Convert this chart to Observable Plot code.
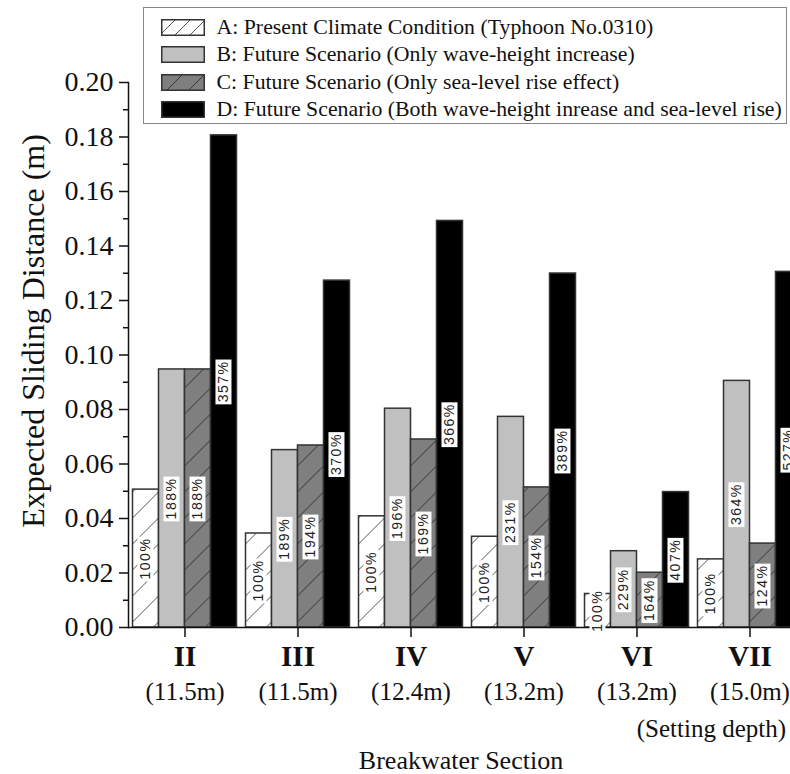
<!DOCTYPE html>
<html><head><meta charset="utf-8">
<script src="https://cdn.jsdelivr.net/npm/d3@7"></script>
<script src="https://cdn.jsdelivr.net/npm/@observablehq/plot@0.6"></script>
<style>
body{margin:0;background:#fff;}
#wrap{position:relative;width:790px;height:774px;overflow:hidden;}
#legend{position:absolute;left:143px;top:7px;width:642px;height:115px;border:1.5px solid #888;background:#fff;font-family:"Liberation Serif";font-size:21.8px;color:#111;}
.row{position:absolute;left:0;height:27px;display:flex;align-items:center;white-space:nowrap;}
.row svg{margin-left:16.5px;margin-right:12px;flex:none;}
</style></head>
<body>
<svg width="0" height="0" style="position:absolute">
<defs>
<pattern id="hatchA" patternUnits="userSpaceOnUse" width="26" height="26">
<rect width="26" height="26" fill="#fff"/>
<path d="M0,26L26,0M-3,3L3,-3M23,29L29,23" stroke="#555" stroke-width="1"/>
</pattern>
<pattern id="hatchC" patternUnits="userSpaceOnUse" width="26" height="26">
<rect width="26" height="26" fill="#7f7f7f"/>
<path d="M0,26L26,0M-3,3L3,-3M23,29L29,23" stroke="#333" stroke-width="1"/>
</pattern>
<pattern id="legA" patternUnits="userSpaceOnUse" width="15" height="15">
<rect width="15" height="15" fill="#fff"/>
<path d="M0,15L15,0M-3,3L3,-3M12,18L18,12" stroke="#555" stroke-width="1"/>
</pattern>
<pattern id="legC" patternUnits="userSpaceOnUse" width="22" height="22">
<rect width="22" height="22" fill="#7f7f7f"/>
<path d="M0,22L22,0M-3,3L3,-3M19,25L25,19" stroke="#333" stroke-width="1"/>
</pattern>
</defs>
</svg>
<div id="wrap"></div>
<script>
const sections = ["II", "III", "IV", "V", "VI", "VII"];
const depths = ["(11.5m)", "(11.5m)", "(12.4m)", "(13.2m)", "(13.2m)", "(15.0m)"];
const scenarios = ["A", "B", "C", "D"];
const scenarioNames = [
  "A: Present Climate Condition (Typhoon No.0310)",
  "B: Future Scenario (Only wave-height increase)",
  "C: Future Scenario (Only sea-level rise effect)",
  "D: Future Scenario (Both wave-height inrease and sea-level rise)"
];
const valuesA = [0.0506, 0.0345, 0.0408, 0.0333, 0.0123, 0.0250];
const valuesB = [0.0947, 0.0651, 0.0803, 0.0773, 0.0280, 0.0905];
const valuesC = [0.0947, 0.0668, 0.0690, 0.0514, 0.0201, 0.0308];
const valuesD = [0.1806, 0.1273, 0.1492, 0.1299, 0.0497, 0.1305];
const pctA = ["100%", "100%", "100%", "100%", "100%", "100%"];
const pctB = ["188%", "189%", "196%", "231%", "229%", "364%"];
const pctC = ["188%", "194%", "169%", "154%", "164%", "124%"];
const pctD = ["357%", "370%", "366%", "389%", "407%", "527%"];
const yTicks = [0, 0.02, 0.04, 0.06, 0.08, 0.10, 0.12, 0.14, 0.16, 0.18, 0.20];
const yMinorTicks = [0.01, 0.03, 0.05, 0.07, 0.09, 0.11, 0.13, 0.15, 0.17, 0.19];
const axisTitleX = "Breakwater Section";
const axisTitleY = "Expected Sliding Distance (m)";
const depthNote = "(Setting depth)";

const fills = ["url(#hatchA)", "#c0c0c0", "url(#hatchC)", "#000"];
const legendFills = ["url(#legA)", "#c0c0c0", "url(#legC)", "#000"];
const allValues = [valuesA, valuesB, valuesC, valuesD];
const allPct = [pctA, pctB, pctC, pctD];

const data = sections.flatMap((s, i) => scenarios.map((k, j) => ({
  section: s, scenario: k, value: allValues[j][i], pct: allPct[j][i]
})));
const secRows = sections.map((s, i) => ({section: s, depth: depths[i]}));

const ink = "#111";
const chart = Plot.plot({
  width: 810, height: 774,
  marginLeft: 127.5, marginRight: 4.5, marginTop: 82, marginBottom: 147,
  style: {fontFamily: "Liberation Serif", color: ink, background: "white"},
  fx: {domain: sections, padding: 0, axis: null},
  x: {domain: scenarios, paddingInner: 0, paddingOuter: 0.17, axis: null},
  y: {domain: [0, 0.2], axis: null},
  color: {domain: scenarios, range: fills},
  marks: [
    Plot.barY(data, {fx: "section", x: "scenario", y: "value", fill: "scenario", stroke: "#333", strokeWidth: 1.5}),
    Plot.ruleY([0], {stroke: ink, strokeWidth: 1.5}),
    Plot.frame({anchor: "left", facetAnchor: "left", stroke: ink, strokeWidth: 1.5}),
    Plot.text(data, {fx: "section", x: "scenario", y: d => d.value / 2, text: "pct", rotate: -90,
      fontFamily: "Liberation Sans", fontSize: 14, fill: "#222", className: "pctlab"}),
    Plot.axisY({ticks: yTicks, tickFormat: d3.format(".2f"), tickSize: 9, tickPadding: 6, fontSize: 28,
      strokeWidth: 1.5, label: null, anchor: "left"}),
    Plot.axisY({ticks: yMinorTicks, tickFormat: () => "", tickSize: 5, strokeWidth: 1.5, label: null, anchor: "left"}),
    Plot.axisFx({anchor: "bottom", tickSize: 10, tickFormat: () => "", label: null, strokeWidth: 1.5}),
    Plot.text(secRows, {fx: "section", text: "section", frameAnchor: "bottom", lineAnchor: "middle", dy: 29, fontSize: 29, fontWeight: "bold", fill: ink}),
    Plot.text(secRows, {fx: "section", text: "depth", frameAnchor: "bottom", lineAnchor: "middle", dy: 64, fontSize: 25, fill: ink}),
    Plot.text([depthNote], {fx: () => "VII", text: d => d, frameAnchor: "bottom", lineAnchor: "middle", dy: 101, dx: 36, textAnchor: "end", fontSize: 25, fill: ink}),
    Plot.text([axisTitleX], {fx: () => "IV", text: d => d, frameAnchor: "bottom", lineAnchor: "middle", dy: 133, dx: 50, textAnchor: "middle", fontSize: 26, fill: ink}),
    Plot.text([axisTitleY], {fx: () => "II", text: d => d, frameAnchor: "left", textAnchor: "middle", lineAnchor: "middle", dx: -95, dy: -24, rotate: -90, fontSize: 32, fill: ink})
  ]
});

const wrap = document.getElementById("wrap");
wrap.append(chart);
chart.style.maxWidth = "none";
const ns = "http://www.w3.org/2000/svg";
const labs = new Set();
chart.querySelectorAll('.pctlab text, g.pctlab text').forEach(t => labs.add(t));
if (labs.size === 0) {
  const pctSet = new Set(data.map(d => d.pct));
  chart.querySelectorAll("text").forEach(t => { if (pctSet.has(t.textContent)) labs.add(t); });
}
labs.forEach(t => {
  t.style.letterSpacing = "1.5px";
  const bb = t.getBBox();
  const r = document.createElementNS(ns, "rect");
  const tr = t.getAttribute("transform");
  if (tr) r.setAttribute("transform", tr);
  r.setAttribute("x", bb.x - 2);
  r.setAttribute("y", bb.y);
  r.setAttribute("width", bb.width + 3);
  r.setAttribute("height", bb.height);
  r.setAttribute("fill", "white");
  t.parentNode.insertBefore(r, t);
});

const legend = document.createElement("div");
legend.id = "legend";
scenarioNames.forEach((name, j) => {
  const row = document.createElement("div");
  row.className = "row";
  row.style.top = (6 + j * 27.3) + "px";
  row.innerHTML = `<svg width="44" height="17"><rect x="0.75" y="0.75" width="42.5" height="15.5" fill="${legendFills[j]}" stroke="#333" stroke-width="1.5"/></svg><span>${name}</span>`;
  legend.append(row);
});
wrap.append(legend);
</script>
</body></html>
